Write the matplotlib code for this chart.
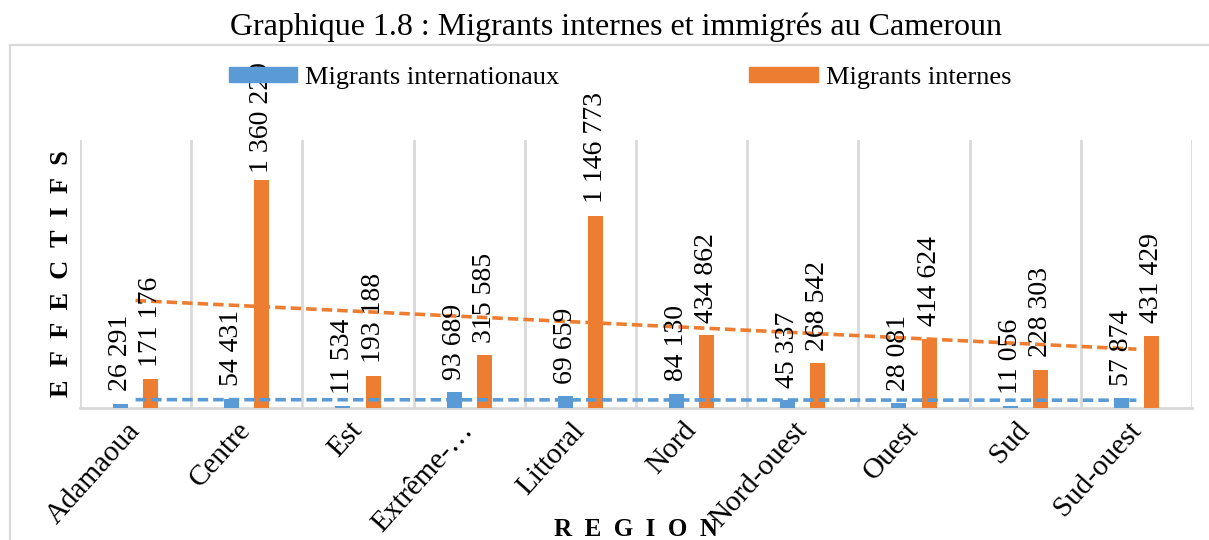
import numpy as np
import matplotlib.pyplot as plt
from matplotlib.patches import Patch, Rectangle

plt.rcParams['font.family'] = ['Liberation Serif', 'DejaVu Serif']

regions = ['Adamaoua', 'Centre', 'Est', 'Extrême-…', 'Littoral', 'Nord',
           'Nord-ouest', 'Ouest', 'Sud', 'Sud-ouest']
intl = [26291, 54431, 11534, 93689, 69659, 84130, 45337, 28081, 11056, 57874]
internes = [171176, 1360229, 193188, 315585, 1146773, 434862, 268542, 414624, 228303, 431429]

blue = '#5B9BD5'
orange = '#ED7D31'
grid_c = '#D9D9D9'

fig = plt.figure(figsize=(12.09, 5.4), dpi=100)
ax = fig.add_axes([80 / 1209, 1 - 408 / 540, 1112 / 1209, 268 / 540])

# outer chart border (runs off the right/bottom edges)
fig.patches.append(Rectangle((10 / 1209, -0.1), 1.2, 1.1 - 45 / 540,
                             transform=fig.transFigure, fill=False,
                             edgecolor=grid_c, lw=1.6))

x = np.arange(len(regions))
w = 0.135
off = 0.135
ax.bar(x - off, intl, width=w, color=blue, zorder=3)
ax.bar(x + off, internes, width=w, color=orange, zorder=3)

# linear trendlines
for vals, col in [(intl, blue), (internes, orange)]:
    k, b = np.polyfit(x, vals, 1)
    ax.plot(x, k * x + b, color=col, lw=2.6, linestyle=(0, (2.9, 1.4)), zorder=4)

def fmt(v):
    return f'{v:,}'.replace(',', ' ')

ymax = 1600000
for xi, v in zip(x, intl):
    ax.annotate(fmt(v), (xi - off, v), xytext=(0, 9), textcoords='offset points',
                rotation=90, ha='center', va='bottom', fontsize=20, zorder=5)
for xi, v in zip(x, internes):
    # labels near the top are pulled closer to the bar
    dy = 5 if v > 0.8 * ymax else 9
    ax.annotate(fmt(v), (xi + off, v), xytext=(0, dy), textcoords='offset points',
                rotation=90, ha='center', va='bottom', fontsize=20, zorder=5)

ax.set_xlim(-0.5, len(regions) - 0.5)
ax.set_ylim(0, ymax)
ax.set_xticks(x)
ax.set_xticklabels(regions, rotation=48, ha='right', va='center',
                   rotation_mode='anchor', fontsize=21)
ax.tick_params(axis='x', length=0, pad=13)
ax.set_yticks([])
ax.set_xticks(np.arange(-0.5, len(regions)), minor=True)
ax.tick_params(axis='x', which='minor', length=0)
ax.grid(which='minor', axis='x', color=grid_c, lw=2, zorder=0)
for s in ['left', 'right', 'top']:
    ax.spines[s].set_visible(False)
ax.spines['bottom'].set_color(grid_c)
ax.spines['bottom'].set_linewidth(2)

fig.text(61 / 1209, 1 - 274 / 540, 'E  F  F  E  C  T  I  F  S', rotation=90,
         ha='center', va='center', fontsize=19, fontweight='bold')
fig.text(636 / 1209, 1 - 529 / 540, 'R  E  G  I  O  N', ha='center', va='center',
         fontsize=18, fontweight='bold')

fig.text(616 / 1209, 1 - 27 / 540,
         'Graphique 1.8 : Migrants internes et immigrés au Cameroun',
         ha='center', va='center', fontsize=23)

handles = [Patch(color=blue), Patch(color=orange)]
fig.legend(handles, ['Migrants internationaux', 'Migrants internes'],
           loc='center', bbox_to_anchor=(620 / 1209, 1 - 78 / 540), ncol=2,
           frameon=False, fontsize=19, handlelength=2.6, handleheight=0.46,
           handletextpad=0.3, columnspacing=7.2)

fig.savefig('out.png', dpi=100)
